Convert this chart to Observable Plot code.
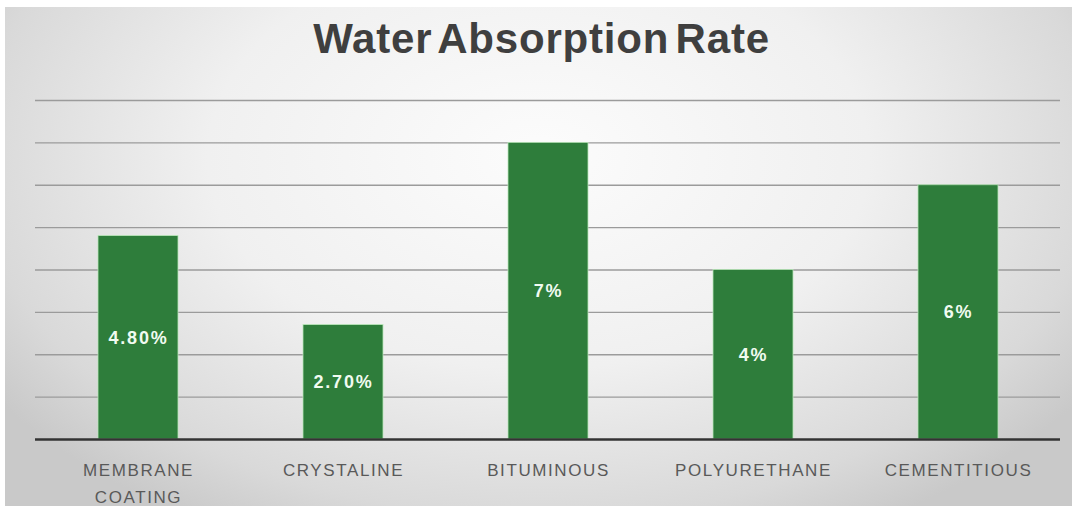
<!DOCTYPE html>
<html><head><meta charset="utf-8">
<script src="https://cdn.jsdelivr.net/npm/d3@7"></script>
<script src="https://cdn.jsdelivr.net/npm/@observablehq/plot@0.6"></script>
<style>
html,body{margin:0;padding:0;background:#fff;}
#chart{position:absolute;left:5px;top:7px;width:1067px;height:499px;overflow:hidden;
  background:radial-gradient(ellipse 62% 85% at 50% 30%, #fcfcfc 0%, #f0f0f0 50%, #d9d9d9 85%, #c9c9c9 100%);
  font-family:"Liberation Sans",Arial,sans-serif;}
#title{height:73px;box-sizing:border-box;padding-top:9px;text-align:center;font-size:42px;line-height:46px;font-weight:bold;color:#3f3f3f;letter-spacing:0.8px;word-spacing:-6px;padding-left:6px;}
#plot g[aria-label="x-axis tick label"]{letter-spacing:1.6px;}
#plot g[aria-label="text"]{letter-spacing:1.8px;}
</style></head><body>
<div id="chart"><div id="title">Water Absorption Rate</div><div id="plot"></div></div>
<script>
const categories = ["MEMBRANE\nCOATING","CRYSTALINE","BITUMINOUS","POLYURETHANE","CEMENTITIOUS"];
const values = [4.8, 2.7, 7, 4, 6];
const valueLabels = ["4.80%","2.70%","7%","4%","6%"];
const gridTicks = [1,2,3,4,5,6,7,8];
const data = categories.map((c,i)=>({category:c, value:values[i], label:valueLabels[i]}));
const chart = Plot.plot({
  width:1067, height:427, marginLeft:30, marginRight:12, marginTop:20, marginBottom:68,
  style:{background:"transparent", fontFamily:"'Liberation Sans',Arial,sans-serif", overflow:"visible"},
  x:{domain:categories, paddingInner:0.61, paddingOuter:0.305, label:null},
  y:{domain:[0,8], axis:null},
  marks:[
    Plot.ruleY(gridTicks, {stroke:"#9b9b9b", strokeWidth:1.3}),
    Plot.barY(data, {x:"category", y:"value", fill:"#2e7d3b", stroke:"#b9e6b9", strokeWidth:0.8}),
    Plot.ruleY([0], {stroke:"#333333", strokeWidth:2.5}),
    Plot.text(data, {x:"category", y:d=>d.value/2, text:"label", fill:"#f1fbf1", fontSize:18, fontWeight:"bold"}),
    Plot.axisX({tickSize:0, tickPadding:17, fontSize:17, lineHeight:1.6, color:"#595959", label:null})
  ]
});
document.getElementById("plot").appendChild(chart);
</script>
</body></html>
